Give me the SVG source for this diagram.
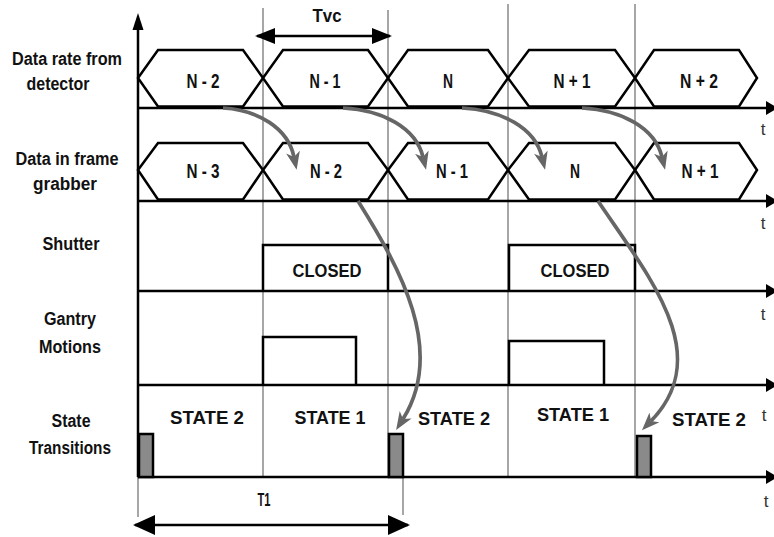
<svg xmlns="http://www.w3.org/2000/svg" width="774" height="537" viewBox="0 0 774 537">
<style>
.lbl{font-family:"Liberation Sans Narrow","Liberation Sans",Arial,sans-serif;font-weight:bold;font-size:18px;fill:#111;text-anchor:middle}
.hx{font-family:"Liberation Sans Narrow","Liberation Sans",Arial,sans-serif;font-weight:bold;font-size:20px;fill:#111;text-anchor:middle}
.st{font-family:"Liberation Sans Narrow","Liberation Sans",Arial,sans-serif;font-weight:bold;font-size:19px;fill:#111;text-anchor:middle}
.t{font-family:"Liberation Sans",Arial,sans-serif;font-size:17px;fill:#333;text-anchor:middle}
.hex{fill:none;stroke:#000;stroke-width:2.5;stroke-linejoin:miter}
.base{stroke:#000;stroke-width:2.5;fill:none}
.grid{stroke:#777;stroke-width:1.3;fill:none}
.box{fill:none;stroke:#000;stroke-width:2.5}
.tr{fill:#8a8a8a;stroke:#000;stroke-width:2.5}
.flow{fill:none;stroke:#666;stroke-width:3.7}
.dim{stroke:#000;stroke-width:2.5;fill:none}
</style>
<defs>
<marker id="ga" markerUnits="userSpaceOnUse" viewBox="0 0 18 14" refX="5" refY="7" markerWidth="18" markerHeight="14" orient="auto">
<path d="M0,0 L18,7 L0,14 L5,7 z" fill="#666"/>
</marker>
<marker id="bk" markerUnits="userSpaceOnUse" viewBox="0 0 12 14" refX="4" refY="7" markerWidth="12" markerHeight="14" orient="auto">
<path d="M0,0 L12,7 L0,14 z" fill="#000"/>
</marker>
<marker id="dm" markerUnits="userSpaceOnUse" viewBox="0 0 20 16" refX="18" refY="8" markerWidth="20" markerHeight="16" orient="auto-start-reverse">
<path d="M0,0 L20,8 L0,16 z" fill="#000"/>
</marker>
<marker id="dm2" markerUnits="userSpaceOnUse" viewBox="0 0 22 20" refX="20" refY="10" markerWidth="22" markerHeight="20" orient="auto-start-reverse">
<path d="M0,0 L22,10 L0,20 z" fill="#000"/>
</marker>
</defs>

<g id="grid">
<line class="grid" x1="263" y1="8" x2="263" y2="477"/>
<line class="grid" x1="388" y1="10" x2="388" y2="477"/>
<line class="grid" x1="508" y1="4" x2="508" y2="477"/>
<line class="grid" x1="635" y1="4" x2="635" y2="477"/>
<line class="grid" x1="138" y1="477" x2="138" y2="517"/>
<line class="grid" x1="403" y1="477" x2="403" y2="515"/>
</g>

<g id="axes">
<line class="base" x1="138" y1="477" x2="138" y2="26"/>
<path d="M138,13 L132.5,30 L143.5,30 z" fill="#000"/>
<line class="base" x1="138" y1="108" x2="770" y2="108" marker-end="url(#bk)"/>
<line class="base" x1="138" y1="201" x2="770" y2="201" marker-end="url(#bk)"/>
<line class="base" x1="138" y1="291" x2="770" y2="291" marker-end="url(#bk)"/>
<line class="base" x1="138" y1="385" x2="770" y2="385" marker-end="url(#bk)"/>
<line class="base" x1="138" y1="477" x2="770" y2="477" marker-end="url(#bk)"/>
<text class="t" x="763" y="135">t</text>
<text class="t" x="763" y="229">t</text>
<text class="t" x="763" y="320">t</text>
<text class="t" x="764" y="421">t</text>
<text class="t" x="766" y="507">t</text>
</g>

<g id="row-labels">
<text class="lbl" x="67" y="65" textLength="110" lengthAdjust="spacingAndGlyphs">Data rate from</text>
<text class="lbl" x="58" y="90" textLength="63" lengthAdjust="spacingAndGlyphs">detector</text>
<text class="lbl" x="67" y="165" textLength="103" lengthAdjust="spacingAndGlyphs">Data in frame</text>
<text class="lbl" x="65" y="190" textLength="64" lengthAdjust="spacingAndGlyphs">grabber</text>
<text class="lbl" x="71" y="250" textLength="57" lengthAdjust="spacingAndGlyphs">Shutter</text>
<text class="lbl" x="70" y="325" textLength="52" lengthAdjust="spacingAndGlyphs">Gantry</text>
<text class="lbl" x="70" y="353" textLength="62" lengthAdjust="spacingAndGlyphs">Motions</text>
<text class="lbl" x="71" y="427" textLength="39" lengthAdjust="spacingAndGlyphs">State</text>
<text class="lbl" x="70" y="454" textLength="82" lengthAdjust="spacingAndGlyphs">Transitions</text>
</g>

<g id="tvc">
<line class="dim" x1="257" y1="36" x2="390" y2="36" marker-start="url(#dm)" marker-end="url(#dm)"/>
<text class="lbl" x="327" y="22" textLength="29" lengthAdjust="spacingAndGlyphs">Tvc</text>
</g>

<g id="detector-row">
<g id="d-n-2"><polygon class="hex" points="138,78 158,50 243,50 263,78 243,106.5 158,106.5"/><text class="hx" x="203" y="88" textLength="33" lengthAdjust="spacingAndGlyphs">N - 2</text></g>
<g id="d-n-1"><polygon class="hex" points="263,78 283,50 368,50 388,78 368,106.5 283,106.5"/><text class="hx" x="325" y="88" textLength="31" lengthAdjust="spacingAndGlyphs">N - 1</text></g>
<g id="d-n"><polygon class="hex" points="388,78 408,50 488,50 508,78 488,106.5 408,106.5"/><text class="hx" x="448" y="88" textLength="10" lengthAdjust="spacingAndGlyphs">N</text></g>
<g id="d-n+1"><polygon class="hex" points="508,78 529,50 615,50 635,78 615,106.5 529,106.5"/><text class="hx" x="572" y="88" textLength="37" lengthAdjust="spacingAndGlyphs">N + 1</text></g>
<g id="d-n+2"><polygon class="hex" points="635,78 654,50 739,50 757,78 739,106.5 654,106.5"/><text class="hx" x="699" y="88" textLength="38" lengthAdjust="spacingAndGlyphs">N + 2</text></g>
</g>

<g id="grabber-row">
<g id="g-n-3"><polygon class="hex" points="138,170 158,143 243,143 263,170 243,199.5 158,199.5"/><text class="hx" x="203" y="178" textLength="33" lengthAdjust="spacingAndGlyphs">N - 3</text></g>
<g id="g-n-2"><polygon class="hex" points="263,170 283,143 368,143 388,170 368,199.5 283,199.5"/><text class="hx" x="326" y="178" textLength="32" lengthAdjust="spacingAndGlyphs">N - 2</text></g>
<g id="g-n-1"><polygon class="hex" points="388,170 408,143 488,143 508,170 488,199.5 408,199.5"/><text class="hx" x="452" y="178" textLength="32" lengthAdjust="spacingAndGlyphs">N - 1</text></g>
<g id="g-n"><polygon class="hex" points="508,170 529,143 615,143 635,170 615,199.5 529,199.5"/><text class="hx" x="575" y="178" textLength="10" lengthAdjust="spacingAndGlyphs">N</text></g>
<g id="g-n+1"><polygon class="hex" points="635,170 654,143 739,143 757,170 739,199.5 654,199.5"/><text class="hx" x="700" y="178" textLength="37" lengthAdjust="spacingAndGlyphs">N + 1</text></g>
</g>

<g id="shutter-row">
<g id="closed-1"><polyline class="box" points="263,291 263,245 388,245 388,291"/><text class="st" x="327" y="277" textLength="69" lengthAdjust="spacingAndGlyphs">CLOSED</text></g>
<g id="closed-2"><polyline class="box" points="509,291 509,245 635,245 635,291"/><text class="st" x="575" y="277" textLength="69" lengthAdjust="spacingAndGlyphs">CLOSED</text></g>
</g>

<g id="gantry-row">
<g id="motion-1"><polyline class="box" points="263,385 263,337 356,337 356,385"/></g>
<g id="motion-2"><polyline class="box" points="509,385 509,341 604,341 604,385"/></g>
</g>

<g id="state-row">
<g id="trans-1"><rect class="tr" x="139" y="434" width="14" height="43"/></g>
<g id="trans-2"><rect class="tr" x="389" y="434" width="14" height="43"/></g>
<g id="trans-3"><rect class="tr" x="637" y="436" width="14" height="41"/></g>
<text class="st" x="207" y="424" textLength="74" lengthAdjust="spacingAndGlyphs">STATE 2</text>
<text class="st" x="330" y="424" textLength="71" lengthAdjust="spacingAndGlyphs">STATE 1</text>
<text class="st" x="454" y="425" textLength="72" lengthAdjust="spacingAndGlyphs">STATE 2</text>
<text class="st" x="573" y="421" textLength="72" lengthAdjust="spacingAndGlyphs">STATE 1</text>
<text class="st" x="709" y="426" textLength="74" lengthAdjust="spacingAndGlyphs">STATE 2</text>
</g>

<g id="t1">
<line class="dim" x1="135" y1="525" x2="408" y2="525" marker-start="url(#dm2)" marker-end="url(#dm2)"/>
<text class="st" x="264" y="506" textLength="13" lengthAdjust="spacingAndGlyphs">T1</text>
</g>

<g id="connectors">
<path class="flow" d="M223,108 C258,110 288,128 294,157" marker-end="url(#ga)"/>
<path class="flow" d="M343,108 C383,110 416,128 423,157" marker-end="url(#ga)"/>
<path class="flow" d="M462,108 C502,110 535,128 542,157" marker-end="url(#ga)"/>
<path class="flow" d="M582,108 C622,110 655,128 662,157" marker-end="url(#ga)"/>
<path class="flow" d="M358,201 C400,268 446,350 403,419" marker-end="url(#ga)"/>
<path class="flow" d="M598,201 C650,278 715,355 651,421" marker-end="url(#ga)"/>
</g>
</svg>
